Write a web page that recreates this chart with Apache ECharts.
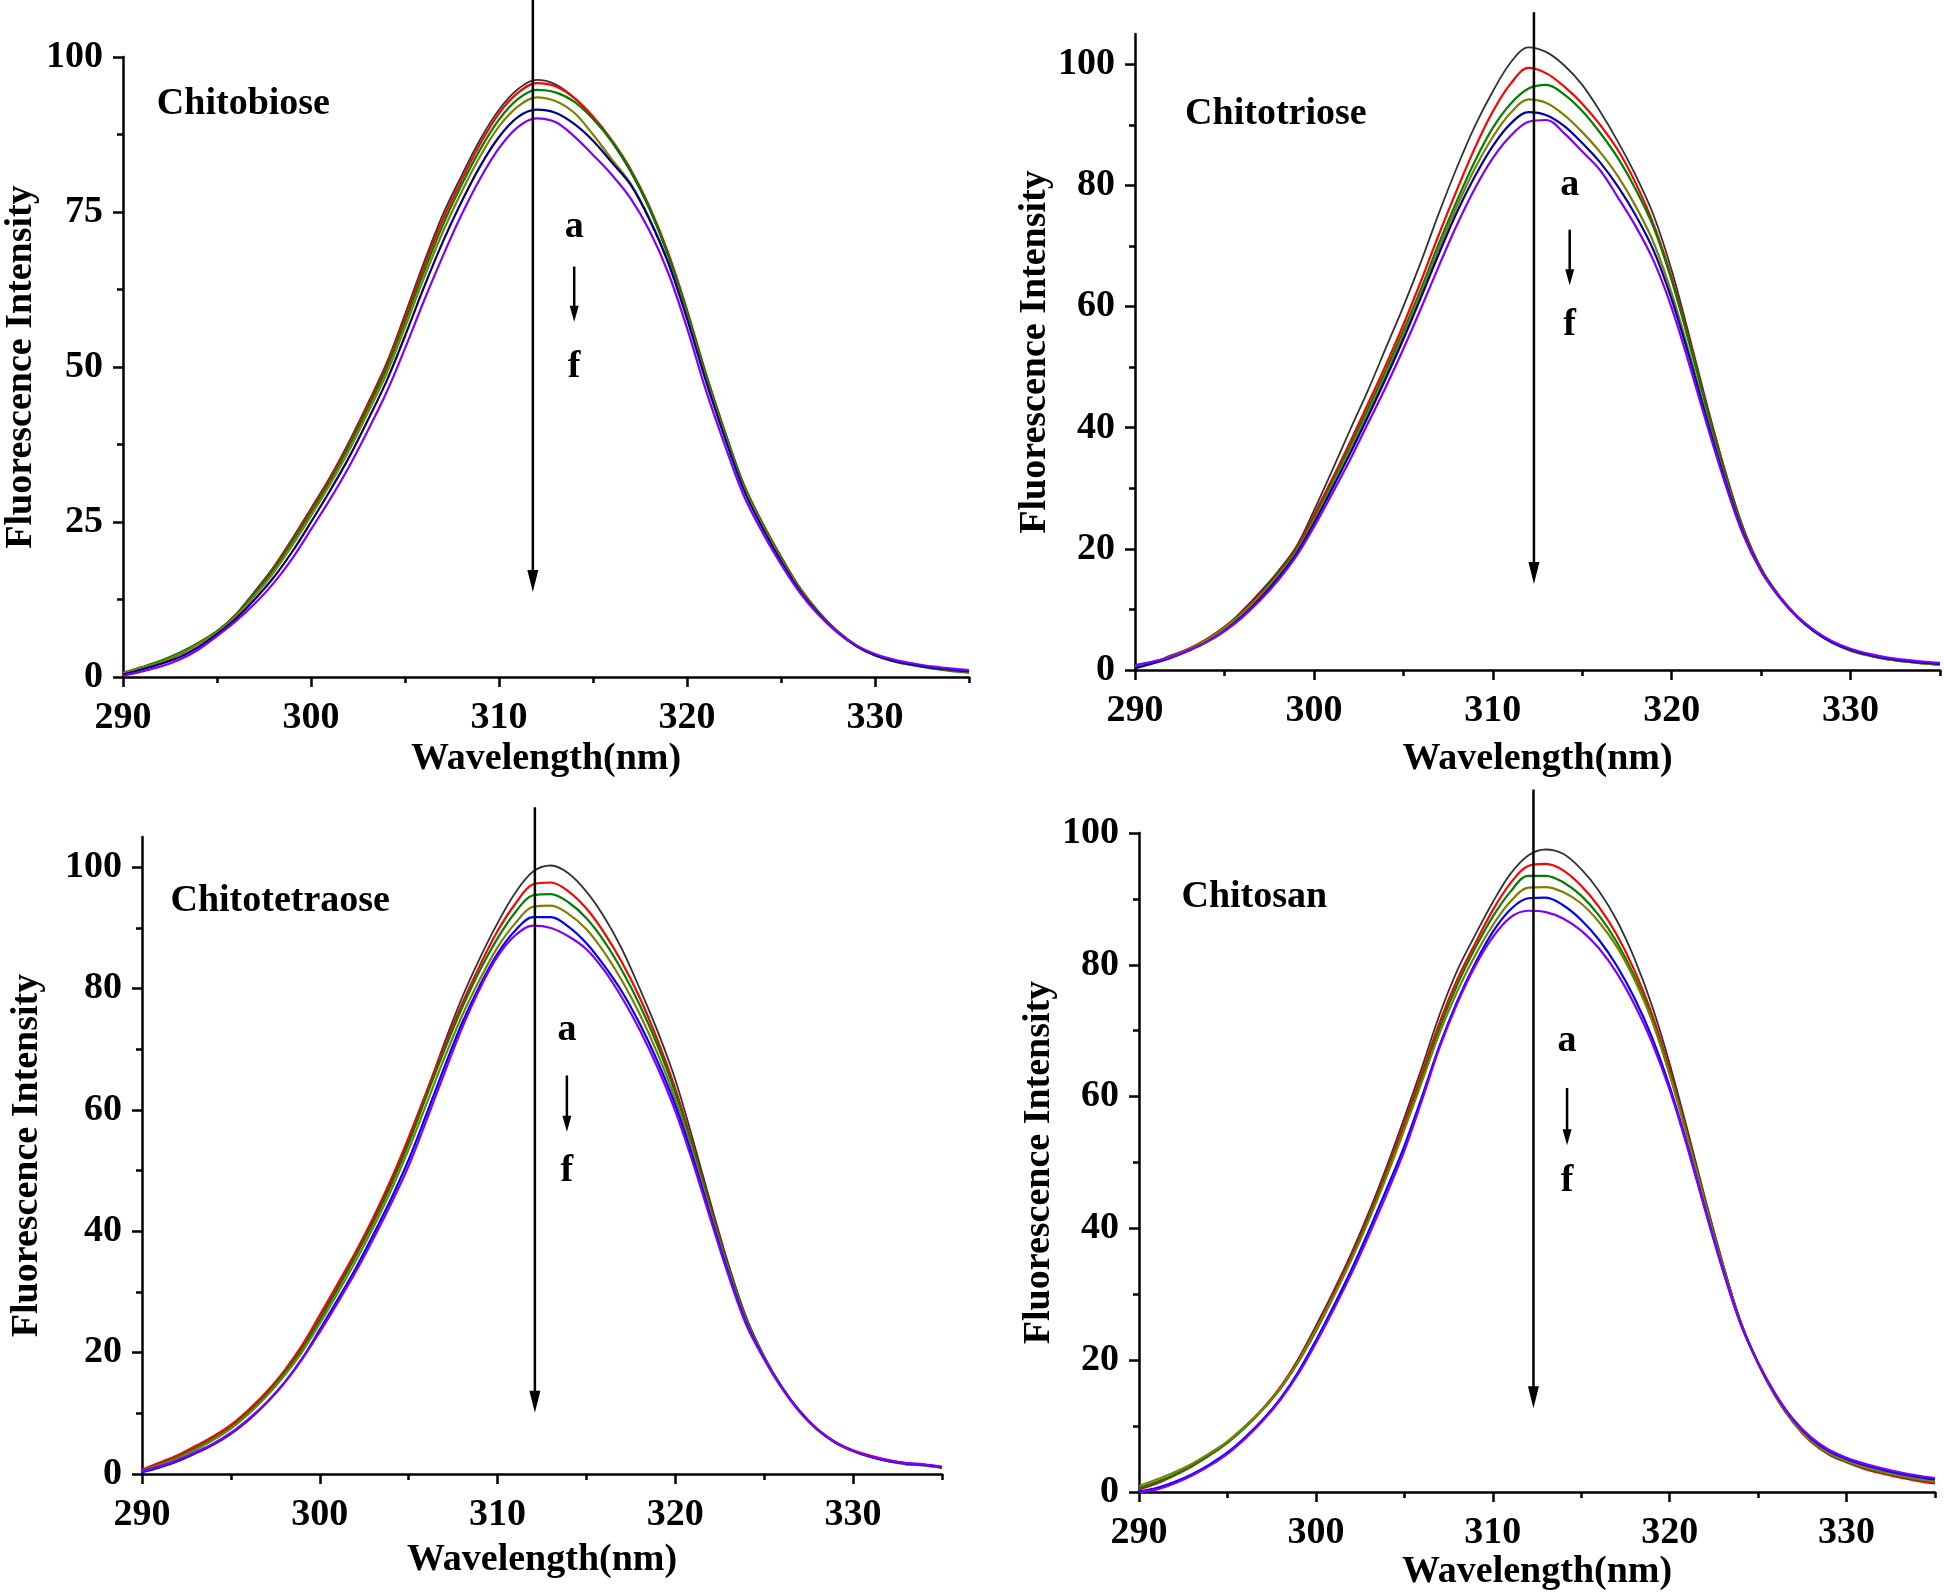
<!DOCTYPE html>
<html><head><meta charset="utf-8">
<script src="https://cdn.jsdelivr.net/npm/echarts@6/dist/echarts.min.js"></script>
<style>html,body{margin:0;padding:0;background:#fff}#c{width:1944px;height:1593px}</style>
</head><body><div id="c"></div>
<script>
// ---------- data ----------
const wavelength = [290,291,292,293,294,295,296,297,298,299,300,301,302,303,304,305,306,307,308,309,310,311,312,313,314,315,316,317,318,319,320,321,322,323,324,325,326,327,328,329,330,331,332,333,334,335];
const curveNames = ['a','b','c','d','e','f'];

// Chitobiose
const p1a = [0.5,1.4,2.3,3.6,5.3,7.3,10.1,13.8,17.7,22.3, 27.2,32.2,37.8,44.0,50.5,58.5,66.8,74.5,80.8,86.7, 91.5,94.8,96.3,95.6,93.4,90.2,86.3,81.5,75.5,68.0, 58.8,48.5,39.3,30.8,24.6,19.2,14.2,10.4,7.3,5.0, 3.5,2.6,2.0,1.5,1.2,0.9];
const p1b = [0.6,1.5,2.5,3.8,5.4,7.3,10.0,13.6,17.5,22.1, 27.0,32.0,37.5,43.7,50.1,58.0,66.1,73.7,80.1,86.0, 90.9,94.2,95.8,95.3,93.4,90.4,86.6,81.9,75.9,68.4, 59.2,49.0,39.7,31.2,24.9,19.4,14.4,10.5,7.4,5.1, 3.6,2.6,2.0,1.5,1.1,0.8];
const p1c = [0.7,1.6,2.6,3.9,5.5,7.4,10.0,13.5,17.3,21.8, 26.6,31.6,37.1,43.2,49.6,57.3,65.3,72.8,79.3,85.1, 89.9,93.2,94.7,94.3,92.8,90.0,86.4,81.7,75.6,68.0, 58.9,48.8,39.6,31.1,24.8,19.3,14.3,10.5,7.4,5.1, 3.5,2.5,1.9,1.4,1.0,0.7];
const p1d = [0.6,1.5,2.4,3.7,5.3,7.2,9.8,13.1,16.8,21.2, 26.0,31.0,36.4,42.5,48.8,56.4,64.3,71.7,78.2,84.0, 88.8,92.0,93.5,92.9,91.0,87.5,83.5,79.6,74.0,67.0, 58.2,48.2,39.1,30.7,24.5,19.0,14.1,10.3,7.3,5.0, 3.5,2.6,2.0,1.5,1.1,0.8];
const p1e = [0.4,1.2,2.1,3.2,4.8,6.9,9.4,12.5,16.0,20.2, 25.0,30.0,35.3,41.3,47.6,55.0,62.8,70.1,76.6,82.4, 87.1,90.3,91.5,91.0,89.2,86.5,83.0,79.4,73.8,66.8, 57.8,47.8,38.7,30.3,24.1,18.7,13.9,10.2,7.2,5.0, 3.5,2.6,2.0,1.5,1.2,0.9];
const p1f = [0.2,0.9,1.7,2.8,4.4,6.6,9.0,11.8,15.1,19.1, 23.8,28.6,33.8,39.6,45.8,53.0,60.6,67.8,74.5,80.4, 85.3,88.7,90.1,89.5,87.2,84.2,81.0,77.2,72.0,65.2, 56.3,46.3,37.5,29.4,23.4,18.2,13.6,10.0,7.2,5.1, 3.7,2.8,2.2,1.7,1.4,1.1];

// Chitotriose
const p2a = [0.4,1.2,2.4,3.5,5.0,7.0,9.8,12.9,16.3,20.3, 26.3,32.8,39.5,46.0,53.0,60.0,67.5,75.5,83.0,89.8, 95.5,100.3,102.8,102.0,99.8,96.6,92.2,87.2,81.6,75.0, 66.0,55.0,43.5,32.8,23.5,16.8,12.3,8.9,6.4,4.6, 3.3,2.5,1.9,1.5,1.2,1.0];
const p2b = [0.5,1.3,2.2,3.5,5.1,7.1,9.6,12.6,16.0,20.0, 25.6,31.4,37.5,43.8,50.2,57.0,64.3,72.0,79.3,86.2, 92.2,96.8,99.4,98.5,96.3,93.5,90.0,85.8,80.3,73.5, 64.8,54.3,43.0,32.5,23.3,16.7,12.3,8.9,6.4,4.6, 3.3,2.5,1.9,1.5,1.2,1.0];
const p2c = [0.5,1.3,2.2,3.4,5.0,7.0,9.5,12.4,15.8,19.7, 25.0,30.8,36.8,43.0,49.3,56.0,63.0,70.5,77.5,84.0, 89.5,93.5,96.0,96.6,95.0,92.3,88.7,84.5,79.3,73.0, 64.3,53.8,42.6,32.2,23.1,16.6,12.2,8.8,6.3,4.5, 3.2,2.4,1.8,1.4,1.1,0.9];
const p2d = [0.5,1.3,2.2,3.4,4.9,6.9,9.3,12.2,15.6,19.4, 24.6,30.3,36.2,42.3,48.6,55.3,62.3,69.7,76.6,82.8, 88.0,92.0,94.2,93.6,91.6,88.8,85.5,81.5,76.5,70.5, 62.2,52.2,41.5,31.5,22.8,16.5,12.2,8.8,6.3,4.5, 3.2,2.4,1.8,1.4,1.1,0.9];
const p2e = [0.3,1.1,2.0,3.2,4.6,6.5,8.9,11.8,15.2,19.1, 24.2,29.8,35.6,41.7,48.0,54.6,61.6,68.8,75.6,81.5, 86.5,90.2,92.1,91.6,89.8,87.0,83.8,79.8,75.0,69.2, 61.2,51.5,41.0,31.2,22.6,16.4,12.1,8.8,6.3,4.5, 3.3,2.5,1.9,1.5,1.2,1.0];
const p2f = [0.8,1.4,2.1,3.2,4.6,6.4,8.7,11.5,14.8,18.7, 23.6,29.0,34.6,40.6,46.6,53.0,59.8,66.8,73.5,79.5, 84.5,88.2,90.5,90.8,88.6,85.6,82.5,78.0,73.2,67.5, 59.8,50.3,40.2,30.7,22.3,16.3,12.1,8.9,6.5,4.7, 3.5,2.7,2.1,1.7,1.4,1.2];

// Chitotetraose
const p3a = [0.6,1.6,2.8,4.3,5.9,7.8,10.3,13.2,16.7,20.8, 25.6,30.8,36.0,41.8,48.0,55.0,62.8,71.0,78.5,85.0, 90.8,95.8,99.3,100.3,99.0,96.0,91.8,86.5,80.0,73.0, 65.0,55.0,44.5,34.5,25.8,19.4,14.3,10.3,7.3,5.2, 3.8,2.9,2.2,1.7,1.5,1.1];
const p3b = [0.7,1.9,3.1,4.6,6.2,8.1,10.6,13.5,17.0,21.2, 26.2,31.3,36.5,42.2,48.5,55.5,63.0,70.5,77.5,83.8, 89.5,94.0,97.2,97.5,96.0,93.2,89.2,84.3,78.5,71.5, 63.5,54.0,43.8,34.0,25.5,19.3,14.3,10.4,7.4,5.3, 3.9,3.0,2.3,1.8,1.5,1.2];
const p3c = [0.6,1.6,2.8,4.2,5.8,7.7,10.2,13.1,16.6,20.6, 25.4,30.5,35.8,41.4,47.6,54.5,62.3,69.8,76.8,83.0, 88.3,92.6,95.4,95.6,94.2,91.6,87.8,83.0,77.3,70.6, 62.8,53.5,43.4,33.8,25.4,19.3,14.3,10.3,7.3,5.2, 3.8,2.8,2.1,1.6,1.4,1.0];
const p3d = [0.5,1.5,2.6,4.0,5.6,7.5,9.9,12.8,16.2,20.1, 24.8,29.8,35.0,40.6,46.7,53.5,61.0,68.5,75.5,81.5, 86.8,90.8,93.5,93.7,92.3,89.8,86.0,81.3,75.8,69.3, 61.8,52.8,42.9,33.4,25.1,19.2,14.3,10.3,7.3,5.2, 3.8,2.8,2.1,1.6,1.4,1.0];
const p3e = [0.3,1.1,2.1,3.4,4.8,6.6,8.9,11.7,15.0,19.0, 23.8,28.7,33.8,39.4,45.3,51.8,59.3,67.0,74.3,80.5, 85.8,89.6,91.8,91.8,90.2,87.5,83.8,79.5,74.2,68.0, 60.8,52.0,42.3,33.0,24.8,19.0,14.2,10.3,7.3,5.2, 3.8,2.8,2.1,1.7,1.5,1.1];
const p3f = [0.5,1.3,2.3,3.6,5.0,6.8,9.1,11.8,15.0,18.9, 23.4,28.2,33.2,38.7,44.5,50.8,58.3,66.0,73.5,80.0, 85.3,88.8,90.4,90.0,88.6,86.5,83.0,78.5,73.2,67.0, 59.8,51.2,41.8,32.6,24.5,18.9,14.1,10.2,7.3,5.2, 3.8,2.9,2.2,1.8,1.6,1.2];

// Chitosan
const p4a = [0.6,1.5,2.6,4.0,5.7,7.6,10.0,12.7,16.0,20.2, 25.2,30.5,36.2,42.5,49.4,56.8,64.5,72.5,79.2,84.5, 89.5,93.8,96.6,97.5,96.8,94.5,91.2,86.8,81.0,73.8, 65.0,55.0,44.6,34.8,26.0,19.6,14.5,10.6,7.7,5.8, 4.6,3.6,2.9,2.3,1.8,1.4];
const p4b = [0.4,1.3,2.5,3.9,5.6,7.5,9.9,12.6,15.9,20.0, 24.8,30.1,35.8,42.0,48.8,56.0,63.6,71.3,77.8,83.2, 88.3,92.4,95.0,95.3,94.3,92.0,88.8,84.6,79.2,72.5, 64.0,54.4,44.2,34.5,25.9,19.5,14.4,10.5,7.6,5.7, 4.5,3.5,2.8,2.2,1.7,1.3];
const p4c = [0.5,1.5,2.6,4.0,5.6,7.5,9.8,12.5,15.7,19.7, 24.4,29.7,35.4,41.6,48.3,55.3,62.8,70.5,77.0,82.5, 87.3,91.1,93.5,93.5,92.5,90.5,87.5,83.5,78.3,71.8, 63.5,54.0,44.0,34.4,25.8,19.5,14.5,10.6,7.7,5.8, 4.6,3.7,3.0,2.4,1.9,1.5];
const p4d = [0.9,1.9,3.0,4.3,5.9,7.7,10.0,12.6,15.8,19.8, 24.6,29.7,35.2,41.3,47.9,55.0,62.3,69.7,76.0,81.4, 86.0,89.6,91.7,91.8,91.0,89.3,86.5,82.8,77.8,71.5, 63.3,53.8,43.8,34.2,25.7,19.5,14.5,10.7,7.8,5.9, 4.7,3.8,3.1,2.5,2.0,1.6];
const p4e = [0.1,0.6,1.5,2.7,4.2,6.0,8.3,11.0,14.2,18.2, 23.0,28.2,33.7,39.7,46.0,52.5,60.0,67.8,74.5,80.2, 85.0,88.4,90.1,90.2,89.0,86.8,83.8,79.9,75.0,69.0, 61.5,52.6,43.0,33.8,25.6,19.6,14.7,10.9,8.1,6.2, 5.0,4.1,3.4,2.8,2.3,1.9];
const p4f = [0.0,0.4,1.3,2.5,4.0,5.8,8.1,10.8,14.0,17.9, 22.6,27.7,33.1,39.0,45.2,51.8,59.5,67.5,74.2,79.8, 84.2,87.2,88.2,88.0,87.0,85.2,82.5,78.8,74.0,68.2, 61.0,52.3,42.8,33.7,25.6,19.6,14.8,11.0,8.3,6.4, 5.2,4.3,3.6,3.0,2.5,2.1];

const panelTitles = ['Chitobiose','Chitotriose','Chitotetraose','Chitosan'];
const xTicks = [290,300,310,320,330];
const xMinorTicks = [295,305,315,325,335];
const yTicksP1 = [0,25,50,75,100];
const yMinorP1 = [12.5,37.5,62.5,87.5];
const yTicks = [0,20,40,60,80,100];
const yMinor = [10,30,50,70,90];
const yMaxes = [100,105,105,100];

// annotations (data coordinates)
const longArrows = [[311.8,109.2,13.7],[312.3,108.6,14.2],[312.1,109.9,10.1],[312.3,106.6,12.7]];
const shortArrows = [[314.0,66.2,57.3],[314.3,72.7,63.5],[313.9,65.7,56.4],[314.2,61.3,52.6]];
const labelA = [[314.0,72.6],[314.3,80.1],[313.9,73.1],[314.2,68.4]];
const labelF = [[314.0,50.0],[314.3,56.9],[313.9,49.9],[314.2,47.1]];
const titlePos = [[291.8,92.4],[292.8,91.8],[291.6,94.5],[292.4,90.2]];

// ---------- style ----------
const panels = [[p1a,p1b,p1c,p1d,p1e,p1f],[p2a,p2b,p2c,p2d,p2e,p2f],[p3a,p3b,p3c,p3d,p3e,p3f],[p4a,p4b,p4c,p4d,p4e,p4f]];
const colorSets = [
  ['#333333','#ff0000','#008000','#808000','#000080','#8000ff'],
  ['#333333','#ff0000','#008000','#808000','#0000a8','#8000ff'],
  ['#333333','#ff0000','#008000','#808000','#0000ff','#8000ff'],
  ['#333333','#ff0000','#008000','#808000','#0000ff','#8000ff']
];
const grids = [
  {left:123, top:57, width:846, height:620},
  {left:1135, top:34, width:805, height:636},
  {left:142, top:837, width:800, height:637},
  {left:1139, top:833, width:796, height:659}
];
const xNameGaps = [63,70,67,58];
const yNameGaps = [83,77,96,81];
const FONT = 'Liberation Serif';
const txt = {fontFamily:FONT, fontWeight:'bold', color:'#000'};

const xAxes = [], yAxes = [], series = [];
panels.forEach((curves, i) => {
  const yT = i === 0 ? yTicksP1 : yTicks;
  const yM = i === 0 ? yMinorP1 : yMinor;
  xAxes.push({
    type:'value', gridIndex:i, min:290, max:335, position:'bottom',
    axisLine:{show:true, onZero:false, lineStyle:{color:'#000', width:2.5}},
    axisTick:{show:true, length:10, customValues:xTicks, lineStyle:{color:'#000', width:2.5}},
    axisLabel:{customValues:xTicks, margin:22, fontSize:38, ...txt},
    splitLine:{show:false},
    name:'Wavelength(nm)', nameLocation:'middle', nameGap:xNameGaps[i],
    nameTextStyle:{fontSize:38, ...txt}
  });
  xAxes.push({
    type:'value', gridIndex:i, min:290, max:335, position:'bottom',
    axisLine:{show:false, onZero:false},
    axisTick:{show:true, length:6, customValues:xMinorTicks, lineStyle:{color:'#000', width:2.5}},
    axisLabel:{show:false}, splitLine:{show:false}
  });
  yAxes.push({
    type:'value', gridIndex:i, min:0, max:yMaxes[i], position:'left',
    axisLine:{show:true, onZero:false, lineStyle:{color:'#000', width:2.5}},
    axisTick:{show:true, length:10, customValues:yT, lineStyle:{color:'#000', width:2.5}},
    axisLabel:{customValues:yT, margin:20, fontSize:38, ...txt},
    splitLine:{show:false},
    name:'Fluorescence Intensity', nameLocation:'middle', nameGap:yNameGaps[i],
    nameTextStyle:{fontSize:38, ...txt}
  });
  yAxes.push({
    type:'value', gridIndex:i, min:0, max:yMaxes[i], position:'left',
    axisLine:{show:false, onZero:false},
    axisTick:{show:true, length:6, customValues:yM, lineStyle:{color:'#000', width:2.5}},
    axisLabel:{show:false}, splitLine:{show:false}
  });
  curves.forEach((vals, k) => {
    series.push({
      type:'line', name:panelTitles[i] + ' ' + curveNames[k],
      xAxisIndex:2*i, yAxisIndex:2*i,
      data: wavelength.map((w, j) => [w, vals[j]]),
      showSymbol:false, smooth:0.35, silent:true,
      lineStyle:{color:colorSets[i][k], width: k === 0 ? 1.8 : 2.2},
      z: 2 + k
    });
  });
});

const chart = echarts.init(document.getElementById('c'), null, {renderer:'canvas'});
chart.setOption({
  animation:false, backgroundColor:'#fff',
  grid: grids.map(g => ({...g, containLabel:false})),
  xAxis:xAxes, yAxis:yAxes, series:series
});

// ---------- annotations through the chart's own scales ----------
function px(i, x, y) { return chart.convertToPixel({gridIndex:i}, [x, y]); }
function arrow(p0, p1, headLen, halfW, lw) {
  return [
    {type:'line', shape:{x1:p0[0], y1:p0[1], x2:p1[0], y2:p1[1]-headLen+2}, style:{stroke:'#000', lineWidth:lw}, z:50},
    {type:'polygon', shape:{points:[[p1[0]-halfW, p1[1]-headLen],[p1[0]+halfW, p1[1]-headLen],[p1[0], p1[1]]]}, style:{fill:'#000'}, z:50}
  ];
}
const graphics = [];
for (let i = 0; i < 4; i++) {
  const la = longArrows[i];
  graphics.push(...arrow(px(i, la[0], la[1]), px(i, la[0], la[2]), 22, 5.5, 2.5));
  const sa = shortArrows[i];
  graphics.push(...arrow(px(i, sa[0], sa[1]), px(i, sa[0], sa[2]), 16, 4.5, 2.5));
  const pa = px(i, labelA[i][0], labelA[i][1]);
  const pf = px(i, labelF[i][0], labelF[i][1]);
  graphics.push({type:'text', x:pa[0], y:pa[1], z:50, style:{text:'a', fontSize:38, fontFamily:FONT, fontWeight:'bold', fill:'#000', align:'center', verticalAlign:'middle'}});
  graphics.push({type:'text', x:pf[0], y:pf[1], z:50, style:{text:'f', fontSize:38, fontFamily:FONT, fontWeight:'bold', fill:'#000', align:'center', verticalAlign:'middle'}});
  const pt = px(i, titlePos[i][0], titlePos[i][1]);
  graphics.push({type:'text', x:pt[0], y:pt[1], z:50, style:{text:panelTitles[i], fontSize:38, fontFamily:FONT, fontWeight:'bold', fill:'#000', align:'left', verticalAlign:'middle'}});
}
chart.setOption({graphic: graphics});
</script></body></html>
